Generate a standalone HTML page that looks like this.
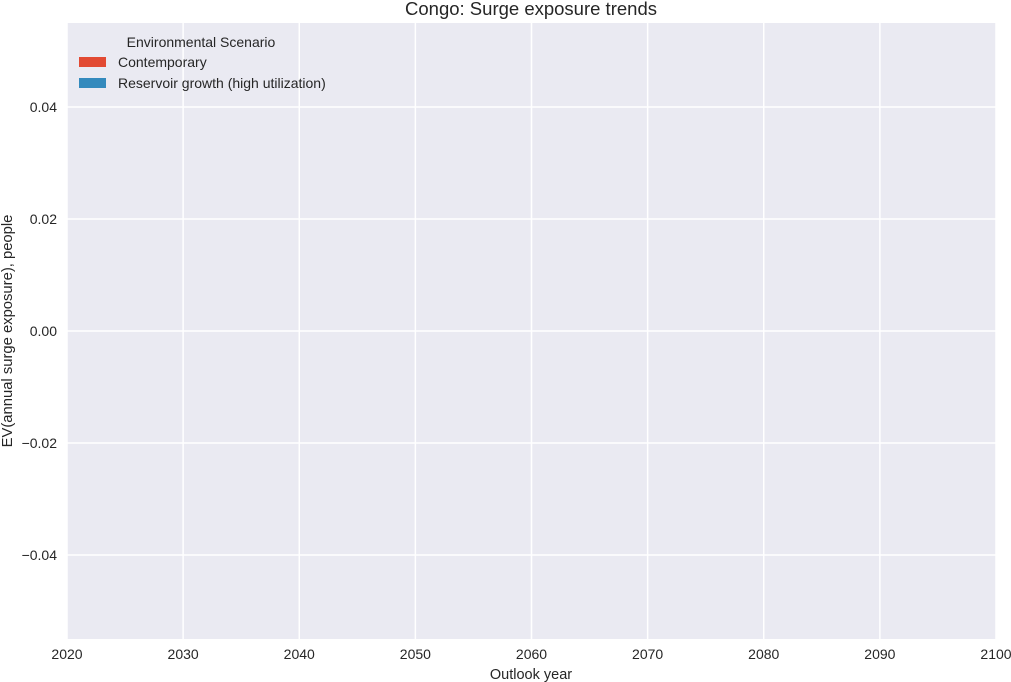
<!DOCTYPE html>
<html><head><meta charset="utf-8"><style>
body{margin:0;background:#fff;}
svg{display:block;font-family:"Liberation Sans","DejaVu Sans",sans-serif;}
</style></head><body>
<svg id="chart" width="1011" height="682">
<rect x="67" y="23" width="929" height="616" fill="#EAEAF2"/>
<g id="grid"></g>
<g id="marks"></g>
<g id="ticks" font-size="14" fill="#262626"></g>
<text x="531" y="15" text-anchor="middle" font-size="18.5" fill="#262626">Congo: Surge exposure trends</text>
<text x="531" y="679" text-anchor="middle" font-size="14.5" fill="#262626">Outlook year</text>
<text transform="translate(12,331) rotate(-90)" text-anchor="middle" font-size="14.8" fill="#262626">EV(annual surge exposure), people</text>
<g font-size="14" fill="#262626">
<text x="201" y="47" text-anchor="middle">Environmental Scenario</text>
<rect x="79" y="57" width="27" height="10" fill="#E24A33"/>
<text x="118" y="67">Contemporary</text>
<rect x="79" y="78" width="27" height="10" fill="#348ABD"/>
<text x="118" y="88">Reservoir growth (high utilization)</text>
</g>
</svg>
<script>
const years=[2020,2030,2040,2050,2060,2070,2080,2090,2100];
const contemporary=[0,0,0,0,0,0,0,0,0];
const reservoir=[0,0,0,0,0,0,0,0,0];
const xTicks=[2020,2030,2040,2050,2060,2070,2080,2090,2100];
const yTicks=[-0.04,-0.02,0,0.02,0.04];
const X0=67,X1=996,Y0=639,Y1=23,xmin=2020,xmax=2100,ymin=-0.055,ymax=0.055;
const xs=v=>X0+(v-xmin)/(xmax-xmin)*(X1-X0);
const ys=v=>Y0-(v-ymin)/(ymax-ymin)*(Y0-Y1);
const NS="http://www.w3.org/2000/svg";
const grid=document.getElementById('grid'),ticks=document.getElementById('ticks'),marks=document.getElementById('marks');
xTicks.forEach(t=>{
 const l=document.createElementNS(NS,'line');
 l.setAttribute('x1',xs(t));l.setAttribute('x2',xs(t));l.setAttribute('y1',Y1);l.setAttribute('y2',Y0);
 l.setAttribute('stroke','#fff');l.setAttribute('stroke-width','1.5');
 
 
 grid.appendChild(l);
 const tx=document.createElementNS(NS,'text');
 tx.setAttribute('x',xs(t));tx.setAttribute('y',659);tx.setAttribute('text-anchor','middle');
 tx.textContent=t;
 
 
 ticks.appendChild(tx);
});
yTicks.forEach(t=>{
 const l=document.createElementNS(NS,'line');
 l.setAttribute('x1',X0);l.setAttribute('x2',X1);l.setAttribute('y1',ys(t));l.setAttribute('y2',ys(t));
 l.setAttribute('stroke','#fff');l.setAttribute('stroke-width','1.5');
 
 
 grid.appendChild(l);
 const tx=document.createElementNS(NS,'text');
 tx.setAttribute('x',57);tx.setAttribute('y',ys(t)+5);tx.setAttribute('text-anchor','end');
 tx.textContent=(t<0?'\u2212':'')+Math.abs(t).toFixed(2);
 
 
 ticks.appendChild(tx);
});
function area(lower,upper,color,name){
 let d='M'+years.map((y,i)=>xs(y)+','+ys(upper[i])).join('L');
 for(let i=years.length-1;i>=0;i--)d+='L'+xs(years[i])+','+ys(lower[i]);
 const p=document.createElementNS(NS,'path');
 p.setAttribute('d',d+'Z');p.setAttribute('fill',color);
 
 
 marks.appendChild(p);
}
const zero=years.map(()=>0);
const s1=contemporary.slice();
const s2=contemporary.map((v,i)=>v+reservoir[i]);
area(zero,s1,'#E24A33','area-contemporary');
area(s1,s2,'#348ABD','area-reservoir');
</script>
</body></html>
